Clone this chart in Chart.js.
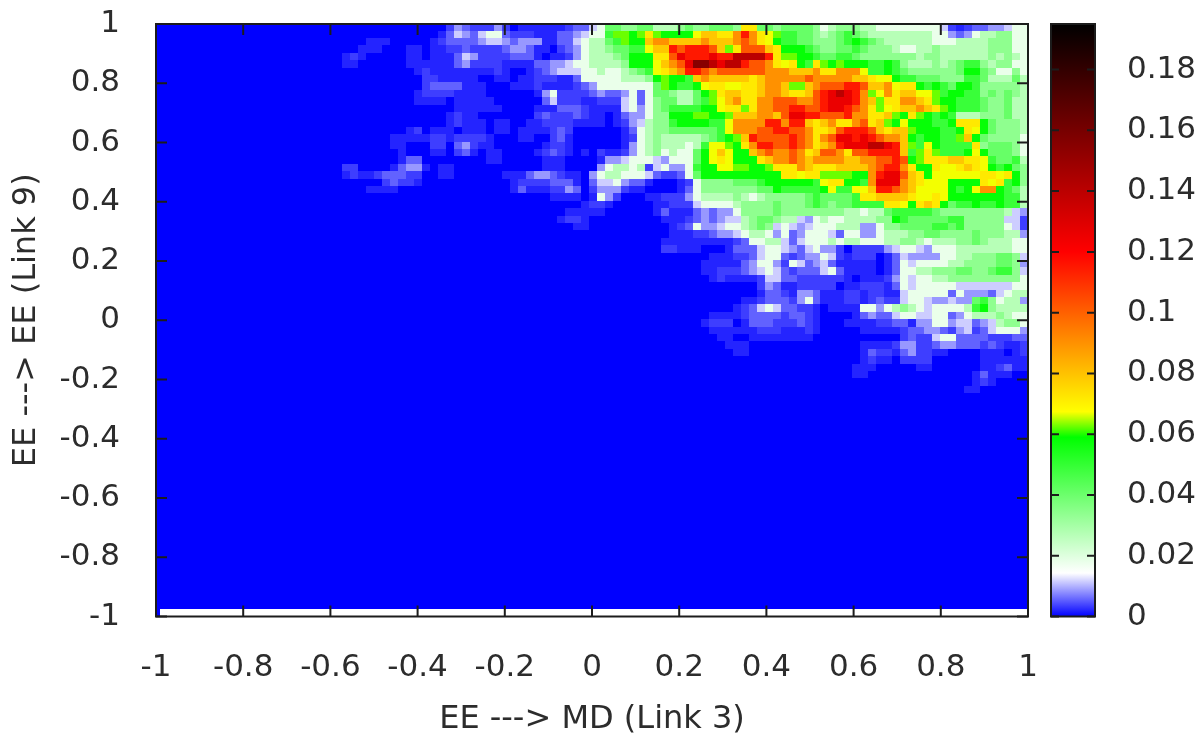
<!DOCTYPE html>
<html>
<head>
<meta charset="utf-8">
<script src="https://cdn.jsdelivr.net/npm/chart.js"></script>
<style>
body { margin: 0; background: #fff; }
canvas { position: absolute; top: 0; filter: blur(0.5px); }
#heat { left: 0; }
#bar { left: 1030px; }
</style>
</head>
<body>
<canvas id="heat" width="1204" height="737"></canvas>
<canvas id="bar" width="174" height="737"></canvas>
<script>
const axisTicks = [-1, -0.8, -0.6, -0.4, -0.2, 0, 0.2, 0.4, 0.6, 0.8, 1];
const barTicks = [0, 0.02, 0.04, 0.06, 0.08, 0.1, 0.12, 0.14, 0.16, 0.18];
const xTitle = 'EE ---> MD (Link 3)';
const yTitle = 'EE ---> EE (Link 9)';

// palette, value -> colour
const colorValues = [0, 0.0143, 0.059, 0.0674, 0.12, 0.195];
const colorStops = ['#0000ff', '#ffffff', '#00ff00', '#ffff00', '#ff0000', '#000000'];

// one char per cell
const levelCodes = '0123456789abcdefghijklm';
const levelValues = [0, 0.002, 0.0035, 0.0055, 0.0085, 0.0115, 0.018, 0.027, 0.034, 0.041, 0.049, 0.058,
    0.0625, 0.067, 0.072, 0.079, 0.09, 0.102, 0.115, 0.126, 0.14, 0.155, 0.17];

// rows top to bottom, right aligned on the last column, blue on the left is left out
const heatRows = [
    '24322242011111123356 99889977789889998ee99899998 67888776666666652123344566',
    '135435663222111334566 accbcecbbbbdffeegigedcaa998 789a9877777777664346778866',
    '111 00000 1233334554344411335677 9acbbfggffffgfffghgedbaa998 889aba98777777666777788866',
    '111000 1101122322223443110234677 899aadffihiiihfcehhhfebbba9 8899a988876677877777788866',
    '121 00000 1101113542222333 101124677 789bbbeehjiiijiikkkkieccbba 99aa98888888788777777 87876',
    '11 000000 111111 34 2222 1111 33 44 5 66 77 778bbbdfghjllkjkkihhgedebae cbcbbbaaba87778789aa878866',
    '121111111121001234555667 66789adefgiihghhhhhhgggfffg eegggdaaba9888888 9bb986686',
    '22111110011011222113666 667778bcbbafgfffffefggggghg ggggffeddbaa999888aa977797',
    '23333111000111211112346 6666669cbaabdeeddeefggfccfg hhhiihffgdeebaba9bba888887',
    '122221111000000146222234 334636998779bceffeefggfeefh ijkjigcdgeffddcabbaa898987',
    '111101111100000035222112 225636899779acdfgeegghhhggh ijjjigfceeggfecbbaaa988977',
    '1111110000111333211 11564689aaaabbdeecegghhiihh ijjihgecdeffgfecbaaa988977',
    '1211 0000000 232223211 01344688bbbccbbcfffggfhjjii hhhiggeefcbecbaba777888977',
    '12111011001122221111 01245788abbbbaadggggiigiife fgeeghefcbdbbbaabeeeb98887',
    '1201110111011011112320000 00136788999999adggghhiihhge efhiiihfeffcbbbaabedb98887',
    '111112212222100011002310000 00126787777789abcfihhhhihge ghjjijihggfbabbaacfb988886',
    '1100022034211 000000 12210000 001467877767addcbegiihhihge fgijjjkkjifcadbaaaae899986',
    '10001102310110000123210102 112467867669bdfdbbfghgghgef hhgehhiiiifacecaaabdb99986',
    '133 00000000 11 00000 111 0000 1 445666546669bdedbbbefgghgfg gggffgghhihbceeeffeeda99a7',
    '22 0000 13441011 00000000000 111 0000 4 67767256446abbddccbbceeegfe eeffffghiigebbeddefedbab98',
    '12112333220011 000000 1113443211046 776665322369bbbbbbbbbbeedee ccccbbgijjhfebddddddeedeb8',
    '23221 00000000000 122223331035 564331000126 8888 999 a bbbbbb a deebbagjjjgfedddbbbbedeab8',
    '1111 00000000000000 131112243024 442110000136 8888888 99 b aaaaa bdaaddfiihgfddddbabdggba97',
    '1111016 420001122246 7777 8 7 6 7 88888 9a 9999aeeffffeddedbbbbbbbaa7',
    '122 100000112225 6666 7 8888 9 888 9a 9899aaaaeedbefeb9aabaabaa7',
    '11111 000000 13111343446 8888 9 88888 888776779 aaaaa 9 88888888 754',
    '122100 0000000 1112343455 7899877546 766777788ba99999aa88888552',
    '1100 00000000 1236445667898565456 66777446889999aa9a88888652',
    '1112234456776463466 65366446777889988889888774',
    '111111111 23667753566 67677666778876777889877766',
    '22111000133356654356 44202222456654666777777766',
    '0111223566 3234465212 2201354444 6677888998 5',
    '1111134664 2653453111 1101365666 6778888998 4',
    '1122234565 3233356311 1101366778 8899889aa8 5',
    '0121111255 3322222210 1112465667 7888888888 6',
    '243112222201122213 6566666 5555555 66',
    '133214431112212211 566666 3644435677',
    '112333246311122123 22566544544 9a86774',
    '123565 3322101111 6646787656 6667ab8777 7',
    '111123333 2332100001 3433566556 6346777876 6',
    '1222013332 2232100011 1122331446 6455345788 6',
    '111111222 1112100000 1111123344 3245235666 4',
    '11001111 1111 00000000000 2322566333322233',
    '111 00000000000000 111124422344333232112',
    '11 00000000000000 13221342211 0000 111012',
    '121102222000000111111',
    '111 00000 11 000000 112311',
    '11 0000000000000 1311100',
    '1210000',
    '11000000',
];

const nCols = 109;
const nRows = 79;
const cellW = 0.01828;
const cellH = 0.02498;
const xStart = -0.992;

function colorAt(v) {
    let i = 0;
    while (i < colorValues.length - 2 && v > colorValues[i + 1]) i++;
    const t = Math.min(1, (v - colorValues[i]) / (colorValues[i + 1] - colorValues[i]));
    const a = parseInt(colorStops[i].slice(1), 16);
    const b = parseInt(colorStops[i + 1].slice(1), 16);
    const mix = (s) => Math.round(((a >> s) & 255) * (1 - t) + ((b >> s) & 255) * t);
    return 'rgb(' + mix(16) + ',' + mix(8) + ',' + mix(0) + ')';
}

// every cell is one point, the point style is a small filled canvas
const sprites = {};
function cellSprite(v) {
    if (!sprites[v]) {
        const c = document.createElement('canvas');
        c.width = 9;
        c.height = 9;
        const g = c.getContext('2d');
        g.fillStyle = colorAt(v);
        g.fillRect(0, 0, 9, 9);
        sprites[v] = c;
    }
    return sprites[v];
}

const cells = [];
for (let r = 0; r < nRows; r++) {
    const text = (heatRows[r] || '').replace(/ /g, '').padStart(nCols, '0');
    const y = 1 - (r + 0.5) * cellH;
    cells.push({x: xStart - cellW / 2, y: y, v: 0});
    for (let i = 0; i < nCols; i++) {
        cells.push({x: xStart + (i + 0.5) * cellW, y: y, v: levelValues[levelCodes.indexOf(text[i])]});
    }
}
// blue sliver left of the white strip along the bottom
cells.push({x: xStart - cellW / 2, y: 1 - (nRows + 0.5) * cellH, v: 0});

const font = {family: "'DejaVu Sans'", size: 31};
const titleFont = {family: "'DejaVu Sans'", size: 32, lineHeight: 1};
const textColor = '#2c2c2c';
const lineColor = '#1c1c1c';

const frameAndTicks = {
    id: 'frameAndTicks',
    afterDatasetsDraw(chart, args, opts) {
        const {ctx, chartArea: a, scales} = chart;
        ctx.save();
        ctx.strokeStyle = lineColor;
        ctx.lineWidth = 2;
        ctx.beginPath();
        Object.values(scales).forEach(function (s) {
            if (!s.options.display) return;
            s.ticks.forEach(function (t) {
                const p = s.getPixelForValue(t.value);
                if (s.isHorizontal()) {
                    ctx.moveTo(p, a.bottom); ctx.lineTo(p, a.bottom - opts.len);
                    ctx.moveTo(p, a.top); ctx.lineTo(p, a.top + opts.len);
                } else {
                    ctx.moveTo(a.left, p); ctx.lineTo(a.left + opts.len, p);
                    ctx.moveTo(a.right, p); ctx.lineTo(a.right - opts.len, p);
                }
            });
        });
        ctx.stroke();
        ctx.strokeRect(a.left, a.top, a.right - a.left, a.bottom - a.top);
        ctx.restore();
    }
};

function setTicks(list) {
    return function (scale) {
        scale.ticks = list.map((v) => ({value: v}));
    };
}

// fixed axis box, no room reserved for half a tick label
function fitAxis(size) {
    return function (s) {
        if (s.isHorizontal()) s.height = size; else s.width = size;
        s.paddingLeft = s.paddingRight = s.paddingTop = s.paddingBottom = 0;
    };
}

new Chart(document.getElementById('heat'), {
    type: 'scatter',
    data: {
        datasets: [{
            data: cells,
            pointRadius: 4,
            pointBorderWidth: 0,
            pointStyle: (ctx) => cellSprite(ctx.raw.v),
        }]
    },
    options: {
        responsive: false,
        animation: false,
        events: [],
        layout: {padding: {top: 24, right: 176}},
        scales: {
            x: {
                type: 'linear', min: -1, max: 1,
                afterBuildTicks: setTicks(axisTicks),
                afterFit: fitAxis(120.5),
                grid: {display: false},
                border: {display: false},
                ticks: {font: font, color: textColor, padding: 25, maxRotation: 0, autoSkip: false, callback: (v) => String(v)},
                title: {display: true, text: xTitle, font: titleFont, color: textColor, padding: {top: 0, bottom: 1}},
            },
            y: {
                type: 'linear', min: -1, max: 1,
                afterBuildTicks: setTicks(axisTicks),
                afterFit: fitAxis(156),
                grid: {display: false},
                border: {display: false},
                ticks: {font: font, color: textColor, padding: 28, autoSkip: false, callback: (v) => String(v)},
                title: {display: true, text: yTitle, font: titleFont, color: textColor, padding: {top: 11, bottom: 11}},
            },
        },
        plugins: {legend: {display: false}, tooltip: {enabled: false}, frameAndTicks: {len: 11}},
    },
    plugins: [frameAndTicks],
});

const barMax = 0.195;

new Chart(document.getElementById('bar'), {
    type: 'bar',
    data: {
        labels: ['colour'],
        datasets: [{
            data: [[0, barMax]],
            categoryPercentage: 1,
            barPercentage: 1,
            backgroundColor: function (ctx) {
                const {chart} = ctx;
                if (!chart.chartArea) return colorStops[0];
                const y = chart.scales.y;
                const grad = chart.ctx.createLinearGradient(0, y.getPixelForValue(0), 0, y.getPixelForValue(barMax));
                colorValues.forEach((v, i) => grad.addColorStop(v / barMax, colorStops[i]));
                return grad;
            },
        }]
    },
    options: {
        responsive: false,
        animation: false,
        events: [],
        layout: {padding: {top: 24, left: 21, bottom: 120.5}},
        scales: {
            x: {display: false},
            y: {
                position: 'right', min: 0, max: barMax,
                afterBuildTicks: setTicks(barTicks),
                afterFit: fitAxis(109),
                grid: {display: false},
                border: {display: false},
                ticks: {font: font, color: textColor, padding: 24, autoSkip: false, callback: (v) => String(v)},
            },
        },
        plugins: {legend: {display: false}, tooltip: {enabled: false}, frameAndTicks: {len: 8}},
    },
    plugins: [frameAndTicks],
});
</script>
</body>
</html>
